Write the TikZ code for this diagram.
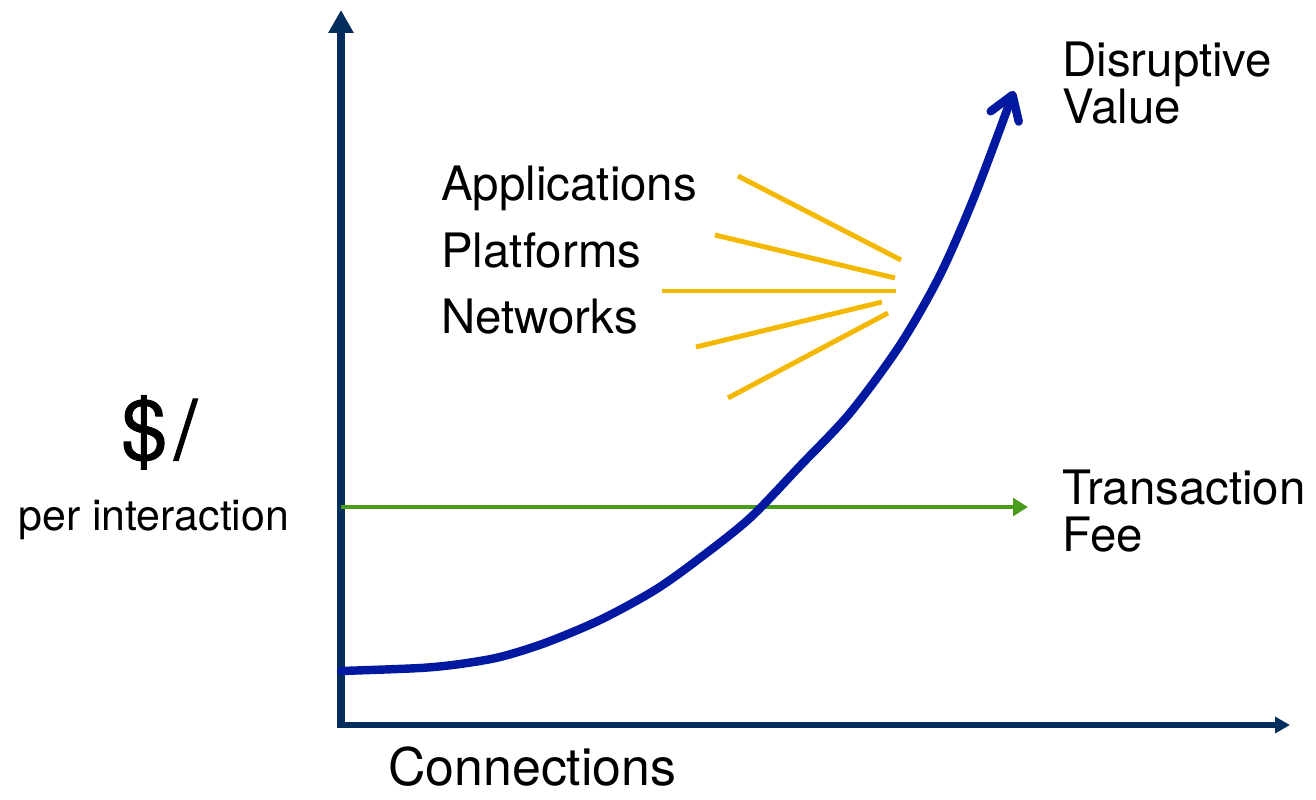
\documentclass[tikz,border=0pt]{standalone}
\usepackage{fontspec}
\setmainfont{TeX Gyre Heros}
\newfontfamily\dollarfont{TeX Gyre Heros}[FakeBold=1.2]
\usetikzlibrary{arrows.meta}
\tikzset{>=Stealth}
\definecolor{axisnavy}{HTML}{022D5C}
\definecolor{curveblue}{HTML}{0019A0}
\definecolor{feegreen}{HTML}{4A9A1B}
\definecolor{rayyellow}{HTML}{F5B800}
\tikzset{
    axisline/.style={draw=axisnavy, line width=3.6pt},
    ray/.style={draw=rayyellow, line width=2.8pt},
    lbl/.style={inner sep=0pt, font=\fontsize{27}{26.6}\selectfont, align=left}
}
\begin{document}
\begin{tikzpicture}[x=0.02cm, y=-0.02cm]
    \useasboundingbox (0,0) rectangle (1316,799);
    % axes
    \coordinate (origin) at (341,728);
    \coordinate (ytop) at (341,10);
    \coordinate (xcorner) at (337,725);
    \coordinate (xend) at (1290,725);
    \draw[axisline, line width=4.5pt, -{Triangle[length=13pt, width=13.6pt]}] (origin) -- (ytop);
    \draw[axisline, line width=3.4pt, -{Triangle[length=8.5pt, width=9pt]}] (xcorner) -- (xend);
    % labels
    \node[lbl, anchor=base west] at (441,200) (apps) {Applications};
    \node[lbl, anchor=base west] at (441,267) (plat) {Platforms};
    \node[lbl, anchor=base west] at (441,333) (netw) {Networks};
    \node[lbl, anchor=north west] at (1062,42) (disrupt) {Disruptive\\Value};
    \node[lbl, anchor=north west] at (1062,470) (txfee) {Transaction\\Fee};
    \node[inner sep=0pt, anchor=base west, font=\dollarfont\fontsize{47}{47}\selectfont] at (121,459) (dollar) {\$\kern4pt/};
    \node[inner sep=0pt, anchor=base west, font=\fontsize{24.4}{26}\selectfont] at (18,530) (perint) {per interaction};
    \node[inner sep=0pt, anchor=base west, font=\fontsize{29.5}{30}\selectfont] at (388,785) (conn) {Connections};
    % transaction fee
    \coordinate (feestart) at (341,507);
    \coordinate (feeend) at (1028,507);
    \draw[feegreen, line width=2.5pt, -{Triangle[length=8.5pt, width=10pt]}] (feestart) -- (feeend);
    % rays
    \draw[ray] (738,176) -- (901,260);
    \draw[ray] (715,235) -- (895,278);
    \draw[ray] (662,291) -- (896,291);
    \draw[ray] (696,347) -- (882,302);
    \draw[ray] (728,398) -- (888,313);
    % disruptive value curve
    \draw[curveblue, line width=4.8pt, line cap=round, -{Straight Barb[length=13pt, width=17pt, round]}]
        plot[smooth, tension=0.5] coordinates {(341,671) (420,668) (460,664) (500,657) (545,643) (600,620) (655,590) (700,558) (750,518) (800,466) (850,413) (900,345) (940,275) (975,195) (1014,91)};
\end{tikzpicture}
\end{document}
